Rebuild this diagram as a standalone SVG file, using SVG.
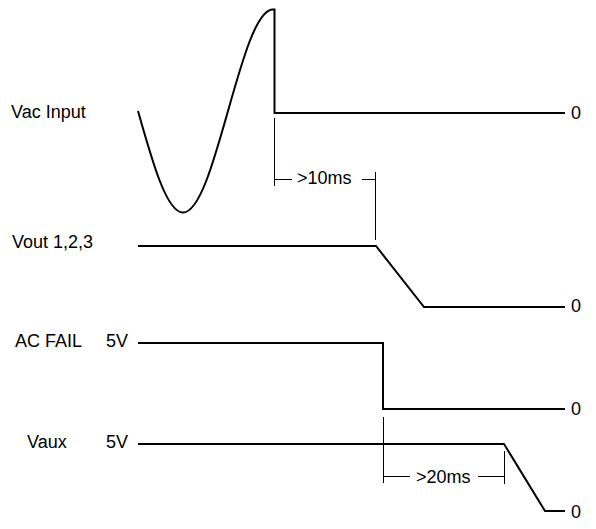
<svg xmlns="http://www.w3.org/2000/svg" width="596" height="529" viewBox="0 0 596 529">
<style>
text{font-family:"Liberation Sans",Arial,sans-serif;font-size:18px;fill:#000}
.w{fill:none;stroke:#000;stroke-width:2;stroke-linejoin:miter}
.m{fill:none;stroke:#000;stroke-width:1}
</style>
<rect width="596" height="529" fill="#fff"/>
<g id="vac">
<text x="11" y="118">Vac Input</text>
<path class="w" d="M138,111 C152.68,163 166.71,212.5 183,212.5 C199.29,212.5 213.32,163 228,111 C242.68,59 256.71,9.5 273,9.5 L274.5,9.5 L274.5,113 L565,113"/>
<text x="571" y="119">0</text>
</g>
<g id="vout">
<text x="12" y="248">Vout 1,2,3</text>
<path class="w" d="M138,246 L376,246 L424,307 L565,307"/>
<text x="571" y="312">0</text>
</g>
<g id="acfail">
<text x="15" y="347">AC FAIL</text>
<text x="106" y="347">5V</text>
<path class="w" d="M138,343 L383,343 L383,409 L565,409"/>
<text x="571" y="415">0</text>
</g>
<g id="vaux">
<text x="27" y="448">Vaux</text>
<text x="106" y="448">5V</text>
<path class="w" d="M138,444 L504,444 L545,511 L565,511"/>
<text x="571" y="518">0</text>
</g>
<g id="connectors">
<path class="m" d="M274.5,118 L274.5,186 M274.5,179.5 L292,179.5 M362,179.5 L375.5,179.5 M375.5,172 L375.5,240"/>
<text x="297" y="184">&gt;10ms</text>
<path class="m" d="M383.5,417 L383.5,483 M383.5,476.5 L410,476.5 M478,476.5 L504.5,476.5 M504.5,451 L504.5,484"/>
<text x="416" y="483">&gt;20ms</text>
</g>
</svg>
